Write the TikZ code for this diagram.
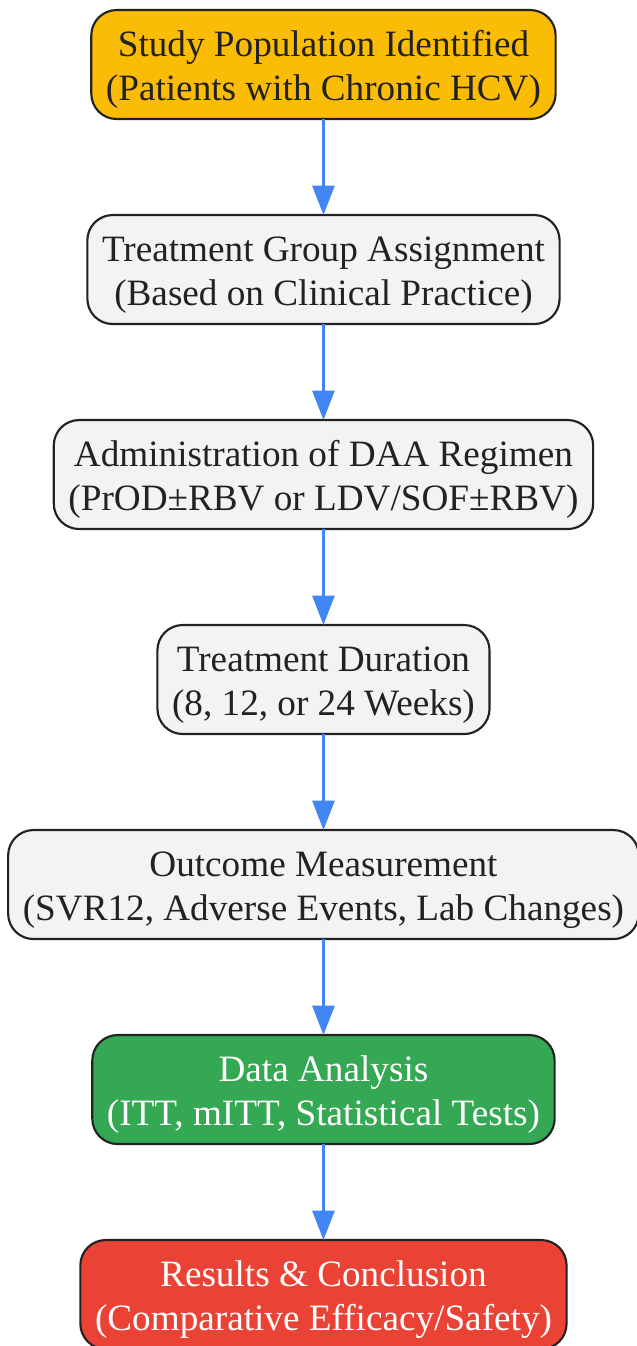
\documentclass[tikz,border=0pt]{standalone}
\usepackage{fontspec}
\setmainfont{Liberation Serif}
\usepackage{tikz}
\usetikzlibrary{arrows.meta,positioning}
\usepackage{xcolor}
\definecolor{gyellow}{HTML}{FBBC05}
\definecolor{ggray}{HTML}{F1F3F4}
\definecolor{ggreen}{HTML}{34A853}
\definecolor{gred}{HTML}{EA4335}
\definecolor{gblue}{HTML}{4285F4}
\definecolor{edgedark}{HTML}{222222}
\newcommand{\tstrut}{\rule{0pt}{27.5pt}}
\tikzstyle{flowbox} = [draw=edgedark, line width=1.6pt, rounded corners=19pt, fill=ggray,
  text=edgedark, align=center, minimum height=81.75pt, inner xsep=11pt, outer sep=0pt,
  font=\fontsize{27.9}{33}\selectfont]
\tikzstyle{arrow} = [line width=2pt, color=gblue, -{Triangle[width=16.5pt,length=22pt]}]

\begin{document}
\begin{tikzpicture}[node distance=72pt]
    % Page frame
    \useasboundingbox (0,0) rectangle (477pt,-1009.5pt);

    % Steps
    \node[flowbox, fill=gyellow] (population) at (242.6pt,-48.4pt)
        {\tstrut Study Population Identified\\(Patients with Chronic HCV)};
    \node[flowbox, below=of population] (assign)
        {\tstrut Treatment Group Assignment\\(Based on Clinical Practice)};
    \node[flowbox, below=of assign] (regimen)
        {\tstrut Administration of DAA Regimen\\(PrOD±RBV or LDV/SOF±RBV)};
    \node[flowbox, below=of regimen] (duration)
        {\tstrut Treatment Duration\\(8, 12, or 24 Weeks)};
    \node[flowbox, below=of duration] (outcome)
        {\tstrut Outcome Measurement\\(SVR12, Adverse Events, Lab Changes)};
    \node[flowbox, fill=ggreen, text=white, below=of outcome] (analysis)
        {\tstrut Data Analysis\\(ITT, mITT, Statistical Tests)};
    \node[flowbox, fill=gred, text=white, below=of analysis] (results)
        {\tstrut Results \& Conclusion\\(Comparative Efficacy/Safety)};

    % Connectors
    \draw[arrow] (population) -- (assign);
    \draw[arrow] (assign) -- (regimen);
    \draw[arrow] (regimen) -- (duration);
    \draw[arrow] (duration) -- (outcome);
    \draw[arrow] (outcome) -- (analysis);
    \draw[arrow] (analysis) -- (results);
\end{tikzpicture}
\end{document}
